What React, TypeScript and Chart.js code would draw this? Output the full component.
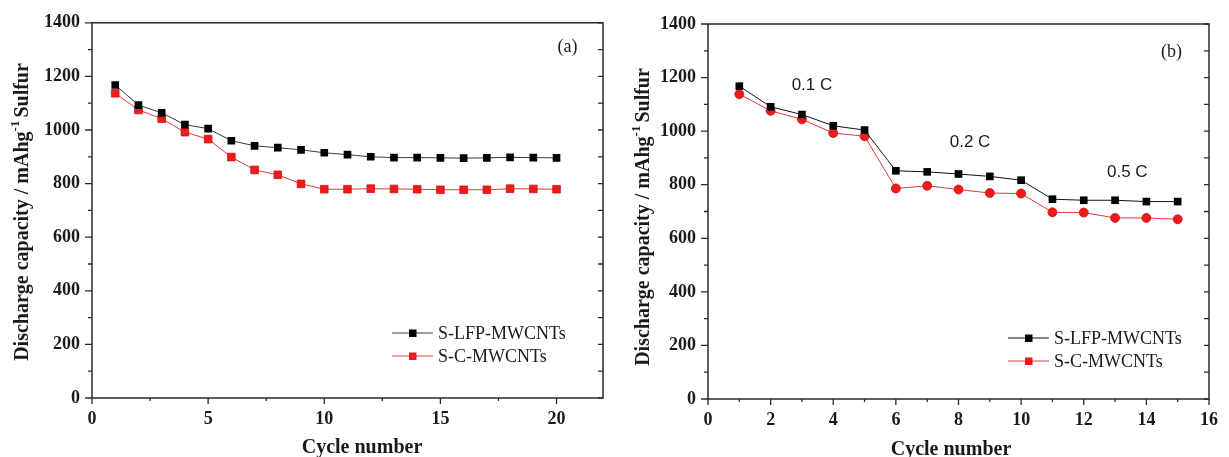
import { useEffect, useRef } from 'react';
import { Chart, registerables } from 'chart.js';

Chart.register(...registerables);

// ---- Panel (a): cycling performance ----
const cyclesA = [1, 2, 3, 4, 5, 6, 7, 8, 9, 10, 11, 12, 13, 14, 15, 16, 17, 18, 19, 20];
const lfpCapA = [1168, 1093, 1064, 1020, 1005, 960, 941, 934, 926, 915, 908, 900, 897, 897, 896, 895, 896, 898, 897, 896];
const cCapA = [1137, 1075, 1042, 992, 966, 899, 851, 833, 799, 779, 779, 781, 780, 779, 777, 777, 777, 781, 780, 779];
const xTicksA = [0, 5, 10, 15, 20];
const xMinorA = [2.5, 7.5, 12.5, 17.5];

// ---- Panel (b): rate capability ----
const cyclesB = [1, 2, 3, 4, 5, 6, 7, 8, 9, 10, 11, 12, 13, 14, 15];
const lfpCapB = [1168, 1091, 1062, 1020, 1004, 852, 848, 840, 831, 817, 746, 742, 742, 737, 737];
const cCapB = [1138, 1076, 1044, 993, 981, 786, 796, 782, 769, 767, 697, 696, 676, 676, 671];
const xTicksB = [0, 2, 4, 6, 8, 10, 12, 14, 16];
const xMinorB = [1, 3, 5, 7, 9, 11, 13, 15];

// ---- shared axis ticks and text ----
const yTicks = [0, 200, 400, 600, 800, 1000, 1200, 1400];
const yMinor = [100, 300, 500, 700, 900, 1100, 1300];
const seriesNames = ['S-LFP-MWCNTs', 'S-C-MWCNTs'];
const rateLabels = ['0.1 C', '0.2 C', '0.5 C'];
const panelTags = ['(a)', '(b)'];
const xTitle = 'Cycle number';
const yTitleMain = 'Discharge capacity / mAhg';
const yTitleSup = '-1';
const yTitleTail = 'Sulfur';

const SERIF = "'Liberation Serif', 'Times New Roman', serif";
const SANS = "'Liberation Sans', Arial, sans-serif";
const INK = '#1a1a1a';
const RED = '#ec1c1c';

type Note = { text: string; x: number; y: number; font: string };

type Panel = {
  width: number;
  height: number;
  plot: { left: number; top: number; right: number; bottom: number };
  xMax: number;
  xTicks: number[];
  xMinor: number[];
  cycles: number[];
  lfp: number[];
  cc: number[];
  redStyle: 'rect' | 'circle';
  blackLine: string;
  redLine: string;
  notes: Note[];
  legend: { x: number; y: number };
  xTitleAt: { x: number; y: number };
  yTitleAt: { x: number; y: number };
};

function decorPlugin(p: Panel) {
  return {
    id: 'panelDecor',
    afterDatasetsDraw(chart: any) {
      const { ctx, chartArea: a, scales } = chart;
      const xs = scales.x;
      const ys = scales.y;
      ctx.save();

      // frame
      ctx.strokeStyle = '#2a2a2a';
      ctx.lineWidth = 1.5;
      ctx.strokeRect(a.left, a.top, a.right - a.left, a.bottom - a.top);

      // tick marks: outward on left/bottom, inward on right
      ctx.lineWidth = 1.3;
      ctx.beginPath();
      for (const v of yTicks) {
        const py = ys.getPixelForValue(v);
        ctx.moveTo(a.left - 7, py);
        ctx.lineTo(a.left, py);
        ctx.moveTo(a.right, py);
        ctx.lineTo(a.right - 5, py);
      }
      for (const v of yMinor) {
        const py = ys.getPixelForValue(v);
        ctx.moveTo(a.left - 4, py);
        ctx.lineTo(a.left, py);
        ctx.moveTo(a.right, py);
        ctx.lineTo(a.right - 5, py);
      }
      for (const v of p.xTicks) {
        const px = xs.getPixelForValue(v);
        ctx.moveTo(px, a.bottom);
        ctx.lineTo(px, a.bottom + 6);
      }
      for (const v of p.xMinor) {
        const px = xs.getPixelForValue(v);
        ctx.moveTo(px, a.bottom);
        ctx.lineTo(px, a.bottom + 3);
      }
      ctx.stroke();

      // axis titles
      ctx.fillStyle = INK;
      ctx.font = `bold 20px ${SERIF}`;
      ctx.textAlign = 'center';
      ctx.textBaseline = 'alphabetic';
      ctx.fillText(xTitle, p.xTitleAt.x, p.xTitleAt.y);

      ctx.save();
      ctx.translate(p.yTitleAt.x, p.yTitleAt.y);
      ctx.rotate(-Math.PI / 2);
      ctx.textAlign = 'left';
      ctx.textBaseline = 'middle';
      const mainFont = `bold 20px ${SERIF}`;
      const supFont = `bold 13px ${SERIF}`;
      ctx.font = mainFont;
      const w1 = ctx.measureText(yTitleMain).width;
      const w3 = ctx.measureText(yTitleTail).width;
      ctx.font = supFont;
      const w2 = ctx.measureText(yTitleSup).width;
      const gap = 3;
      let cx = -(w1 + w2 + gap + w3) / 2;
      ctx.font = mainFont;
      ctx.fillText(yTitleMain, cx, 0);
      cx += w1;
      ctx.font = supFont;
      ctx.fillText(yTitleSup, cx, -7);
      cx += w2 + gap;
      ctx.font = mainFont;
      ctx.fillText(yTitleTail, cx, 0);
      ctx.restore();

      // in-plot notes
      ctx.textAlign = 'center';
      ctx.textBaseline = 'middle';
      for (const n of p.notes) {
        ctx.font = n.font;
        ctx.fillText(n.text, xs.getPixelForValue(n.x), ys.getPixelForValue(n.y));
      }

      // legend
      chart.data.datasets.forEach((ds: any, i: number) => {
        const ly = p.legend.y + i * 23;
        const lx = p.legend.x;
        ctx.strokeStyle = ds.borderColor;
        ctx.lineWidth = 1;
        ctx.beginPath();
        ctx.moveTo(lx, ly);
        ctx.lineTo(lx + 41, ly);
        ctx.stroke();
        ctx.fillStyle = ds.pointBackgroundColor;
        ctx.fillRect(lx + 17, ly - 3.5, 7.5, 7.5);
        ctx.fillStyle = INK;
        ctx.font = `18px ${SERIF}`;
        ctx.textAlign = 'left';
        ctx.textBaseline = 'middle';
        ctx.fillText(ds.label, lx + 46, ly + 1);
      });

      ctx.restore();
    },
  };
}

function buildConfig(p: Panel): any {
  const tickFont = { family: SERIF, size: 18, weight: 'bold' as const };
  const plain = (v: any) => String(v);
  return {
    type: 'line',
    data: {
      datasets: [
        {
          label: seriesNames[0],
          data: p.cycles.map((c, i) => ({ x: c, y: p.lfp[i] })),
          borderColor: p.blackLine,
          borderWidth: 1,
          pointStyle: 'rect',
          pointRadius: 5.4,
          pointBackgroundColor: '#000000',
          pointBorderColor: '#000000',
          pointBorderWidth: 0,
          tension: 0,
        },
        {
          label: seriesNames[1],
          data: p.cycles.map((c, i) => ({ x: c, y: p.cc[i] })),
          borderColor: p.redLine,
          borderWidth: 1,
          pointStyle: p.redStyle,
          pointRadius: p.redStyle === 'rect' ? 5.4 : 4.5,
          pointBackgroundColor: RED,
          pointBorderColor: '#d01212',
          pointBorderWidth: 0.8,
          tension: 0,
        },
      ],
    },
    options: {
      responsive: false,
      animation: false,
      events: [],
      layout: { padding: { left: 0, top: p.plot.top, right: p.width - p.plot.right, bottom: 0 } },
      plugins: { legend: { display: false }, tooltip: { enabled: false } },
      scales: {
        x: {
          type: 'linear',
          min: 0,
          max: p.xMax,
          afterBuildTicks: (s: any) => {
            s.ticks = p.xTicks.map((v) => ({ value: v }));
          },
          afterFit: (s: any) => {
            s.height = p.height - p.plot.bottom;
          },
          grid: { display: false, drawTicks: false },
          border: { display: false },
          ticks: { font: tickFont, color: INK, padding: 11, maxRotation: 0, autoSkip: false, callback: plain },
        },
        y: {
          type: 'linear',
          min: 0,
          max: 1400,
          afterBuildTicks: (s: any) => {
            s.ticks = yTicks.map((v) => ({ value: v }));
          },
          afterFit: (s: any) => {
            s.width = p.plot.left;
          },
          grid: { display: false, drawTicks: false },
          border: { display: false },
          ticks: { font: tickFont, color: INK, padding: 12, callback: plain },
        },
      },
    },
    plugins: [decorPlugin(p)],
  };
}

const panelA: Panel = {
  width: 612,
  height: 457,
  plot: { left: 92, top: 22, right: 603, bottom: 398 },
  xMax: 22,
  xTicks: xTicksA,
  xMinor: xMinorA,
  cycles: cyclesA,
  lfp: lfpCapA,
  cc: cCapA,
  redStyle: 'rect',
  blackLine: '#3a3a3a',
  redLine: '#e23a3a',
  notes: [{ text: panelTags[0], x: 20.47, y: 1310, font: `18px ${SERIF}` }],
  legend: { x: 392, y: 333 },
  xTitleAt: { x: 362, y: 453 },
  yTitleAt: { x: 23, y: 212 },
};

const panelB: Panel = {
  width: 617,
  height: 457,
  plot: { left: 96, top: 24, right: 607, bottom: 399 },
  xMax: 16,
  xTicks: xTicksB,
  xMinor: xMinorB,
  cycles: cyclesB,
  lfp: lfpCapB,
  cc: cCapB,
  redStyle: 'circle',
  blackLine: '#111111',
  redLine: '#e23a3a',
  notes: [
    { text: panelTags[1], x: 14.8, y: 1295, font: `18px ${SERIF}` },
    { text: rateLabels[0], x: 3.32, y: 1172, font: `17px ${SANS}` },
    { text: rateLabels[1], x: 8.37, y: 959, font: `17px ${SANS}` },
    { text: rateLabels[2], x: 13.39, y: 847, font: `17px ${SANS}` },
  ],
  legend: { x: 396, y: 338 },
  xTitleAt: { x: 339, y: 455 },
  yTitleAt: { x: 32, y: 217 },
};

function PanelChart({ panel }: { panel: Panel }) {
  const ref = useRef<HTMLCanvasElement | null>(null);
  useEffect(() => {
    if (!ref.current) return;
    const chart = new Chart(ref.current, buildConfig(panel));
    return () => chart.destroy();
  }, [panel]);
  return <canvas ref={ref} width={panel.width} height={panel.height} style={{ display: 'block' }} />;
}

export default function App() {
  return (
    <div style={{ position: 'absolute', left: 0, top: 0, width: 1229, height: 457, background: '#ffffff' }}>
      <div style={{ position: 'absolute', left: 0, top: 0 }}>
        <PanelChart panel={panelA} />
      </div>
      <div style={{ position: 'absolute', left: 612, top: 0 }}>
        <PanelChart panel={panelB} />
      </div>
    </div>
  );
}
